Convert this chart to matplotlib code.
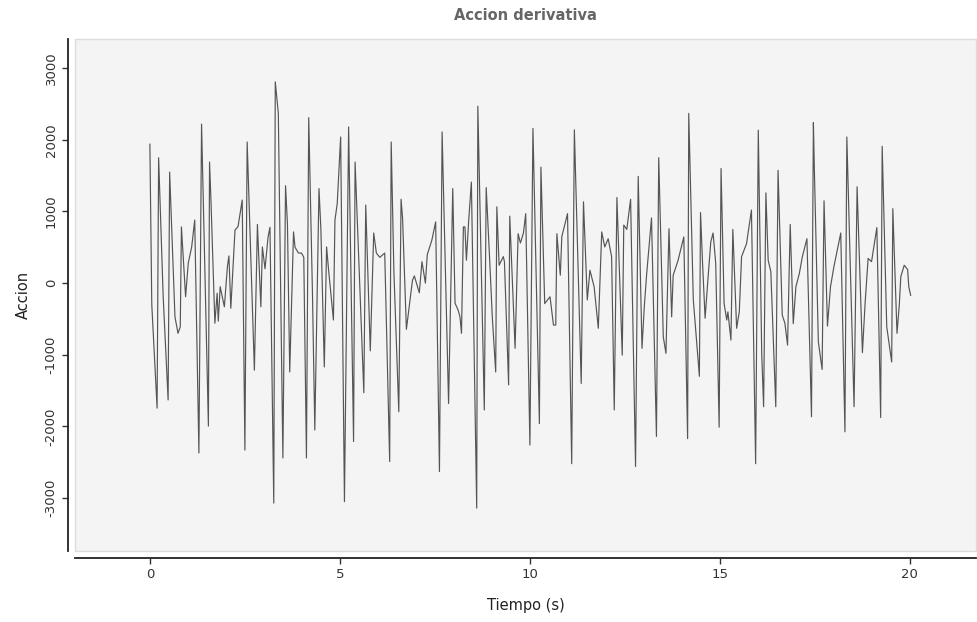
import matplotlib
matplotlib.use("Agg")
import matplotlib.pyplot as plt

# signal vertices (time in s, action value)
tiempo = [0.00, 0.05, 0.19, 0.23, 0.35, 0.48, 0.52, 0.66, 0.74, 0.80, 0.83, 0.94, 1.01, 1.10, 1.18,
          1.29, 1.36, 1.54, 1.57, 1.61, 1.71, 1.77, 1.80, 1.85, 1.96, 2.04, 2.08, 2.13, 2.24, 2.32,
          2.43, 2.50, 2.56, 2.75, 2.83, 2.92, 2.96, 3.03, 3.11, 3.16, 3.26, 3.30, 3.38, 3.50, 3.57,
          3.62, 3.68, 3.78, 3.82, 3.91, 3.99, 4.05, 4.12, 4.18, 4.28, 4.34, 4.45, 4.50, 4.59, 4.65,
          4.70, 4.83, 4.87, 4.93, 5.02, 5.12, 5.23, 5.36, 5.40, 5.63, 5.68, 5.80, 5.89, 5.96, 6.05,
          6.18, 6.31, 6.35, 6.42, 6.55, 6.61, 6.65, 6.75, 6.91, 6.96, 7.09, 7.16, 7.25, 7.30, 7.42,
          7.52, 7.62, 7.69, 7.86, 7.97, 8.03, 8.11, 8.16, 8.20, 8.25, 8.29, 8.33, 8.39, 8.46, 8.60,
          8.63, 8.80, 8.85, 8.95, 9.01, 9.10, 9.13, 9.19, 9.30, 9.33, 9.44, 9.47, 9.61, 9.69, 9.75,
          9.83, 9.89, 10.00, 10.08, 10.25, 10.29, 10.39, 10.53, 10.62, 10.68, 10.71, 10.80, 10.84, 10.99, 11.10,
          11.17, 11.35, 11.41, 11.51, 11.58, 11.69, 11.80, 11.89, 11.97, 12.06, 12.15, 12.22, 12.29, 12.43, 12.47,
          12.55, 12.65, 12.78, 12.85, 12.95, 13.01, 13.07, 13.20, 13.33, 13.39, 13.51, 13.58, 13.66, 13.73, 13.77,
          13.90, 14.05, 14.15, 14.18, 14.30, 14.46, 14.49, 14.54, 14.61, 14.69, 14.76, 14.82, 14.89, 14.98, 15.03,
          15.11, 15.18, 15.21, 15.29, 15.34, 15.44, 15.51, 15.57, 15.70, 15.83, 15.94, 16.01, 16.10, 16.15, 16.21,
          16.27, 16.34, 16.47, 16.53, 16.64, 16.71, 16.78, 16.85, 16.93, 17.00, 17.09, 17.17, 17.29, 17.41, 17.46,
          17.48, 17.59, 17.69, 17.74, 17.83, 17.91, 18.00, 18.07, 18.18, 18.29, 18.34, 18.53, 18.61, 18.75, 18.82,
          18.90, 18.99, 19.13, 19.23, 19.27, 19.39, 19.52, 19.55, 19.66, 19.72, 19.76, 19.85, 19.94, 19.97, 20.02]
accion = [1940, -300, -1745, 1750, -190, -1630, 1550, -470, -700, -610, 785, -190, 280, 505, 880,
          -2370, 2220, -1995, 1690, 1115, -560, -140, -530, -50, -330, 230, 380, -350, 740, 790,
          1160, -2330, 1970, -1215, 820, -330, 505, 200, 645, 780, -3070, 2810, 2370, -2440, 1360,
          830, -1240, 715, 500, 420, 420, 360, -2440, 2310, -190, -2050, 1320, 750, -1170, 505,
          200, -515, 880, 1110, 2040, -3050, 2180, -2210, 1690, -1530, 1090, -945, 700, 420, 360,
          420, -2490, 1970, 180, -1795, 1170, 900, -645, 40, 100, -135, 300, 0, 400, 600,
          855, -2630, 2110, -1680, 1320, -280, -375, -470, -700, 785, 785, 320, 880, 1410, -3140,
          2470, -1770, 1335, 230, -470, -1240, 1065, 250, 370, 300, -1420, 935, -910, 690, 560,
          700, 970, -2260, 2160, -1960, 1620, -285, -190, -585, -585, 690, 110, 650, 970, -2520,
          2140, -1400, 1135, -235, 180, -50, -630, 715, 505, 620, 370, -1770, 1195, -1005, 810,
          750, 1170, -2560, 1490, -910, -330, 110, 910, -2140, 1750, -750, -980, 760, -470, 110,
          320, 645, -2170, 2370, -235, -1300, 985, 320, -490, 90, 575, 700, 275, -2010, 1600,
          -285, -515, -400, -795, 750, -630, -400, 370, 550, 1020, -2520, 2135, -980, -1725, 1260,
          320, 160, -1725, 1575, -445, -560, -865, 820, -565, -50, 135, 370, 620, -1865, 2240,
          1715, -820, -1205, 1150, -600, -50, 230, 415, 700, -2075, 2040, -1725, 1345, -970, -285,
          345, 300, 775, -1875, 1910, -610, -1100, 1040, -700, -310, 90, 250, 190, -50, -170]

x_ticks = [0, 5, 10, 15, 20]
y_ticks = [-3000, -2000, -1000, 0, 1000, 2000, 3000]

plt.rcParams['axes.unicode_minus'] = False
plt.rcParams['font.family'] = ['DejaVu Sans']

fig = plt.figure(figsize=(9.78, 6.22), dpi=100)
ax = fig.add_axes([0.0767, 0.114, 0.9213, 0.823])

ax.set_facecolor('#f4f4f4')
ax.patch.set_edgecolor('#dcdcdc')
ax.patch.set_linewidth(1.0)

ax.plot(tiempo, accion, color='#555555', linewidth=0.85)

ax.set_xlim(-1.97, 21.74)
ax.set_ylim(-3740, 3405)
ax.set_xticks(x_ticks)
ax.set_yticks(y_ticks)

for s in ['top', 'right']:
    ax.spines[s].set_visible(False)
for s in ['left', 'bottom']:
    ax.spines[s].set_position(('outward', 5))
    ax.spines[s].set_color('#222222')
    ax.spines[s].set_linewidth(1.3)

ax.tick_params(axis='both', length=4, width=1, color='#333333', labelcolor='#333333', labelsize=9.5)
plt.setp(ax.get_yticklabels(), rotation=90, va='center')

ax.set_title('Accion derivativa', fontsize=10.5, fontweight='bold', color='#666666', pad=14)
ax.set_xlabel('Tiempo (s)', fontsize=10.5, color='#222222', labelpad=12)
ax.set_ylabel('Accion', fontsize=10.5, color='#222222', labelpad=10)

fig.savefig('out.png', dpi=100)
